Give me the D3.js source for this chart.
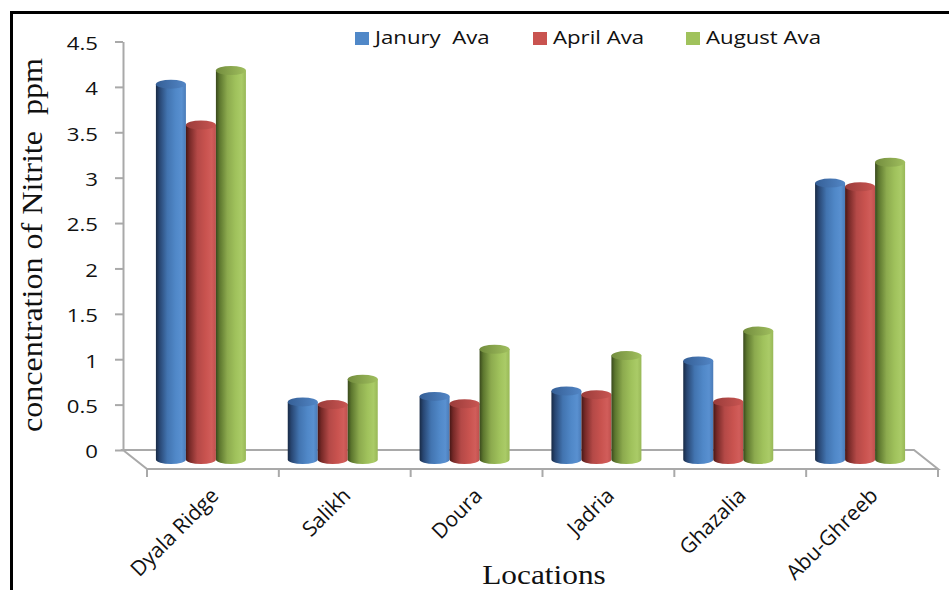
<!DOCTYPE html>
<html>
<head>
<meta charset="utf-8">
<script src="https://cdn.jsdelivr.net/npm/d3@7"></script>
<style>
  html, body { margin: 0; padding: 0; background: #fff; }
  svg { display: block; }
  text { white-space: pre; }
</style>
</head>
<body>
<div id="chart"></div>
<script>
// Nitrite concentration (ppm) by sampling location, three monthly averages
const categories = ["Dyala Ridge", "Salikh", "Doura", "Jadria", "Ghazalia", "Abu-Ghreeb"];
const seriesNames = ["Janury  Ava", "April Ava", "August Ava"];
const january = [4.03, 0.53, 0.59, 0.65, 0.98, 2.94];
const april   = [3.58, 0.50, 0.51, 0.61, 0.53, 2.90];
const august  = [4.18, 0.78, 1.11, 1.04, 1.31, 3.17];
const yTicks  = [0, 0.5, 1, 1.5, 2, 2.5, 3, 3.5, 4, 4.5];

const seriesValues = [january, april, august];
const W = 949, H = 590;
const SX = 1.2; // horizontal text stretch

const svg = d3.select("#chart").append("svg")
  .attr("width", W).attr("height", H)
  .attr("viewBox", `0 0 ${W} ${H}`);

svg.append("rect").attr("width", W).attr("height", H).attr("fill", "#fff");

// colour sets: body gradient stops and top face gradient
const palettes = [
  { body: ["#182a45", "#284672", "#4274b0", "#5088c8", "#5990d0", "#4a7bb8"], top: ["#355f96", "#5286c6"] },
  { body: ["#461716", "#762927", "#b44947", "#c9534f", "#d15d5a", "#bf504d"], top: ["#9a3c3a", "#c95552"] },
  { body: ["#39491c", "#5c762e", "#8caa4e", "#a0c25c", "#aacb67", "#98b857"], top: ["#738d3e", "#a0bf5e"] }
];
const bodyOffsets = [0, 0.12, 0.38, 0.66, 0.86, 1];

const defs = svg.append("defs");
palettes.forEach((p, i) => {
  const g = defs.append("linearGradient").attr("id", `body-${i}`)
    .attr("x1", 0).attr("x2", 1).attr("y1", 0).attr("y2", 0);
  p.body.forEach((c, k) => g.append("stop").attr("offset", bodyOffsets[k]).attr("stop-color", c));
  const t = defs.append("linearGradient").attr("id", `top-${i}`)
    .attr("x1", 0).attr("x2", 1).attr("y1", 0).attr("y2", 0);
  t.append("stop").attr("offset", 0).attr("stop-color", p.top[0]);
  t.append("stop").attr("offset", 1).attr("stop-color", p.top[1]);
});

// plot geometry (back wall + floor depth)
const backLeft = 123, frontLeft = 147, frontRight = 938;
const depthX = frontLeft - backLeft, depthY = 19;

const y = d3.scaleLinear().domain([0, 4.5]).range([450, 41.5]);
const x0 = d3.scaleBand().domain(categories).range([frontLeft, frontRight]).padding(0);
const x1 = d3.scaleBand().domain(seriesNames).range([0, 90]).padding(0);

const axisColor = "#a9a9a9";

// floor outline
const floorY = y(0);
const floor = [
  [backLeft, floorY], [frontRight - depthX, floorY],
  [frontRight, floorY + depthY], [frontLeft, floorY + depthY]
];
svg.append("path")
  .attr("d", d3.line()(floor) + "Z")
  .attr("fill", "none").attr("stroke", axisColor).attr("stroke-width", 2);

// category boundary ticks on the front edge
const bounds = categories.map(c => x0(c)).concat([frontRight]);
svg.append("g").selectAll("line").data(bounds).join("line")
  .attr("x1", d => d).attr("x2", d => d)
  .attr("y1", floorY + depthY).attr("y2", floorY + depthY + 8)
  .attr("stroke", axisColor).attr("stroke-width", 2);

// value axis
const yAxis = d3.axisLeft(y).tickValues(yTicks).tickSize(8).tickSizeOuter(0)
  .tickFormat(d => String(d));
const gy = svg.append("g").attr("transform", `translate(${backLeft},0)`).call(yAxis);
gy.select(".domain").attr("stroke", axisColor).attr("stroke-width", 2);
gy.selectAll(".tick line").attr("stroke", axisColor).attr("stroke-width", 2);
gy.selectAll(".tick text")
  .attr("x", -25 / SX).attr("dy", "0.42em")
  .attr("transform", `scale(${SX},1)`)
  .attr("fill", "#111").attr("font-family", "'Open Sans', sans-serif").attr("font-size", 18.5);

// cylinders
const rx = 15, ry = 4.5, baseY = floorY + depthY / 2;
function bodyPath(cx, yt, yb) {
  return `M${cx - rx},${yt} L${cx - rx},${yb} A${rx},${ry} 0 0 0 ${cx + rx},${yb} L${cx + rx},${yt} Z`;
}
const bars = [];
categories.forEach((c, ci) => {
  seriesNames.forEach((s, si) => {
    const cx = x0(c) + x0.bandwidth() / 2 - depthX / 2 - 45 + x1(s) + x1.bandwidth() / 2;
    bars.push({ cx, value: seriesValues[si][ci], si });
  });
});
const gb = svg.append("g");
const bar = gb.selectAll("g").data(bars).join("g");
bar.append("path")
  .attr("d", d => bodyPath(d.cx, y(d.value), baseY))
  .attr("fill", d => `url(#body-${d.si})`);
bar.append("ellipse")
  .attr("cx", d => d.cx).attr("cy", d => y(d.value))
  .attr("rx", rx).attr("ry", ry)
  .attr("fill", d => `url(#top-${d.si})`);

// category labels
svg.append("g").selectAll("text").data(categories).join("text")
  .attr("transform", d => `translate(${x0(d) + x0.bandwidth() / 2 + 7},${497}) rotate(-45)`)
  .attr("text-anchor", "end")
  .attr("font-family", "'Open Sans', sans-serif").attr("font-size", 21)
  .attr("fill", "#111")
  .text(d => d);

// legend
const legendX = [355, 533, 686];
const lg = svg.append("g").selectAll("g").data(seriesNames).join("g")
  .attr("transform", (d, i) => `translate(${legendX[i]},32)`);
lg.append("rect").attr("width", 14).attr("height", 13)
  .attr("fill", (d, i) => palettes[i].body[3]);
lg.append("text")
  .attr("transform", `translate(20,12) scale(${SX},1)`)
  .attr("font-family", "'Open Sans', sans-serif").attr("font-size", 18.5)
  .attr("fill", "#111")
  .text(d => d);

// axis titles
svg.append("text")
  .attr("transform", "translate(42,245) rotate(-90)")
  .attr("text-anchor", "middle")
  .attr("font-family", "'Liberation Serif', 'Times New Roman', serif")
  .attr("font-size", 29)
  .attr("textLength", 374).attr("lengthAdjust", "spacingAndGlyphs")
  .attr("fill", "#111")
  .text("concentration of Nitrite  ppm");

svg.append("text")
  .attr("transform", `translate(544,584) scale(1.12,1)`)
  .attr("text-anchor", "middle")
  .attr("font-family", "'Liberation Serif', 'Times New Roman', serif")
  .attr("font-size", 28)
  .attr("fill", "#111")
  .text("Locations");

// outer frame
svg.append("path")
  .attr("d", `M11.5,${H + 5} L11.5,12.5 L${W + 5},12.5`)
  .attr("fill", "none").attr("stroke", "#000").attr("stroke-width", 3);
</script>
</body>
</html>
